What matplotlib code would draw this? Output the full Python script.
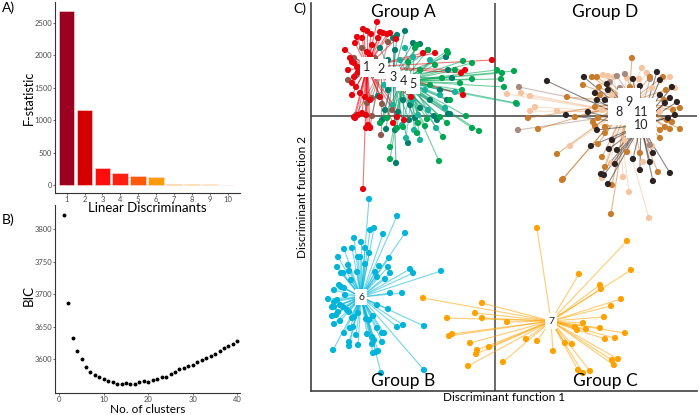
import matplotlib
matplotlib.use('Agg')
import matplotlib.pyplot as plt

plt.rcParams['font.family'] = ['Lato', 'DejaVu Sans']

# ---- A) F-statistic of each linear discriminant
ld_index = [1, 2, 3, 4, 5, 6, 7, 8, 9, 10]
f_stat = [2685, 1150, 267, 190, 139, 123, 20, 15, 10, 5]
bar_colors = ['#9b0021', '#d40000', '#fe0d0d', '#ff1e10', '#ff5a0a',
              '#ff9a0a', '#ffb300', '#ffcb22', '#ffe066', '#fff2ab']

# ---- B) BIC against number of clusters
n_clusters = list(range(1, 41))
bic = [3822, 3687, 3633, 3613, 3600, 3588, 3580.5, 3576, 3572, 3569.5,
       3567, 3565.5, 3561.5, 3562, 3563, 3562, 3562.5, 3565, 3567, 3565.5,
       3568, 3570, 3572, 3573, 3576.5, 3580.5, 3585.5, 3587, 3589.5, 3591.5,
       3595, 3598, 3601.5, 3604.5, 3608, 3612.5, 3617, 3620, 3624, 3627.5]

# ---- C) discriminant scores (LD1, LD2) per cluster
pts_1 = [(-11.8, 9.4), (-13.2, 8.7), (-12.8, 8.5), (-12.4, 8.2), (-11.5, 8.4), (-11.2, 8.3),
         (-10.8, 8.2), (-13.8, 7.9), (-14.0, 7.3), (-13.3, 7.8), (-14.5, 5.8), (-14.3, 5.4),
         (-14.1, 5.3), (-13.8, 4.9), (-13.7, 4.4), (-14.1, 3.9), (-14.3, 3.3), (-13.9, 2.9),
         (-13.5, 2.3), (-13.0, 1.9), (-12.5, 1.6), (-14.1, -0.1), (-13.7, 0.1), (-12.9, -1.2),
         (-12.7, -0.9), (-10.2, -0.7), (-9.1, -0.4), (-3.2, 2.1), (-3.4, 4.3), (-3.0, 4.6),
         (-0.3, 5.6), (-7.2, 6.3), (-6.0, 6.3), (-13.2, -7.3), (-12.5, 6.1), (-12.8, 6.4),
         (-11.5, 1.9), (-8.4, 1.9), (-9.9, 7.7), (-10.5, 8.3), (-13.3, 0.3), (-12.9, 0.1),
         (-14.0, -0.2), (-12.5, -1.2), (-9.8, -0.1), (-15.0, 6.6), (-14.7, 4.6), (-14.3, 2.1),
         (-12.3, 7.1), (-11.7, 7.8)]
pts_2 = [(-13.7, 4.9), (-14.1, 5.8), (-13.9, 4.1), (-12.8, 1.3), (-13.9, 0.1), (-12.5, -1.1),
         (-11.4, -1.9), (-12.3, 0.0), (-13.3, 6.8), (-12.0, 5.8), (-10.7, 7.4), (-12.3, 1.8),
         (-10.3, 0.6), (-14.7, 3.6), (-11.3, 1.2)]
pts_3 = [(-9.8, 8.1), (-9.0, 8.5), (-10.2, 7.8), (-8.2, 7.3), (-7.5, 7.2), (-6.7, 6.6),
         (-4.9, 5.9), (-4.7, 4.6), (-4.3, 3.8), (-5.5, 2.6), (-4.8, 1.6), (-7.5, 0.8),
         (-8.5, 1.1), (-9.7, 0.4), (-11.0, 0.6), (-11.7, 2.0), (-10.7, 2.6), (-9.2, 1.6),
         (-6.5, 1.6), (-4.7, 0.2), (-8.6, -0.4), (-10.0, -1.4), (-8.7, -2.7), (-9.9, -4.7),
         (-11.3, -0.4), (-10.9, -1.3), (-4.5, 0.2), (-6.1, 0.0), (-10.7, 5.6), (-11.5, 6.8),
         (-10.0, 6.6), (-8.0, -0.2), (-5.8, -0.4), (-12.0, 4.1), (-11.1, 4.6)]
pts_4 = [(-8.0, 6.8), (-7.8, 7.1), (-6.7, 6.6), (-4.8, 6.5), (-4.7, 6.3), (-3.2, 5.5),
         (-2.3, 5.3), (0.2, 4.6), (1.9, 4.5), (0.7, 4.3), (-2.3, 3.7), (0.6, 3.7),
         (0.9, 2.9), (2.1, 1.3), (-3.5, 3.3), (-3.3, 2.6), (-4.5, 1.6), (-5.5, -0.1),
         (-4.8, -0.7), (-2.9, 0.0), (-2.3, -1.2), (-1.6, -1.5), (-5.2, -2.1), (-5.6, -4.5),
         (-10.5, -3.1), (-10.5, -4.3), (-9.8, -1.2), (-9.2, -1.1), (-10.8, -0.2), (-11.5, -0.7),
         (-6.8, -0.3), (-7.7, -0.7), (-7.0, -1.0), (-7.8, -1.7), (-8.7, 5.4), (-7.5, 4.6),
         (-6.0, 5.1), (-6.5, 3.1), (-5.3, 3.8), (-4.0, 4.6)]
pts_5 = [(2.2, 1.2), (-8.1, -1.4), (-7.7, 0.1), (-6.7, 0.6), (-8.3, 1.6), (-5.0, 0.8),
         (-5.5, 2.1), (-7.0, 2.6), (-8.9, -2.2), (-9.3, -0.9), (-7.5, -2.4), (-5.9, -1.2),
         (-8.2, 5.9), (-9.0, 6.8), (-9.5, 5.6), (-6.5, 5.6), (-4.0, 2.4), (-10.2, 1.1),
         (-11.1, 3.1)]
pts_6 = [(-12.6, -8.3), (-9.8, -10.0), (-9.0, -11.7), (-12.5, -11.4), (-12.1, -11.2), (-11.2, -11.8),
         (-14.1, -12.2), (-13.4, -12.6), (-15.1, -13.3), (-14.3, -13.2), (-13.0, -13.2), (-12.6, -13.7),
         (-13.7, -14.1), (-13.5, -14.1), (-15.7, -14.1), (-14.7, -14.9), (-15.8, -15.1), (-15.4, -15.7),
         (-15.2, -15.7), (-14.6, -15.5), (-13.8, -15.6), (-13.0, -14.8), (-11.6, -15.0), (-10.6, -14.2),
         (-10.7, -15.1), (-12.0, -15.6), (-10.5, -15.7), (-8.5, -15.3), (-8.2, -15.7), (-5.4, -15.5),
         (-11.0, -16.3), (-11.8, -16.1), (-14.4, -16.4), (-15.6, -16.9), (-16.1, -17.4), (-15.4, -17.1),
         (-15.1, -17.2), (-15.0, -17.9), (-16.7, -18.3), (-16.1, -18.6), (-15.8, -18.4), (-10.5, -17.7),
         (-9.3, -17.7), (-11.8, -18.9), (-10.7, -19.3), (-16.3, -19.1), (-16.1, -19.1), (-15.5, -18.9),
         (-15.2, -19.1), (-14.8, -19.4), (-14.6, -19.6), (-16.3, -20.0), (-15.9, -19.9), (-15.7, -19.6),
         (-15.5, -20.5), (-16.1, -20.8), (-14.3, -20.2), (-14.1, -20.1), (-13.7, -19.7), (-12.9, -20.3),
         (-12.6, -20.4), (-12.2, -20.0), (-9.8, -21.1), (-9.2, -20.9), (-7.1, -21.0), (-11.8, -21.2),
         (-11.3, -21.7), (-11.1, -21.7), (-14.5, -21.2), (-14.2, -21.1), (-15.1, -21.7), (-13.9, -21.9),
         (-12.8, -21.8), (-12.3, -22.1), (-12.1, -22.4), (-11.3, -22.6), (-14.6, -22.6), (-14.6, -23.0),
         (-13.7, -22.9), (-12.3, -22.8), (-11.9, -23.6), (-12.2, -23.7), (-11.7, -23.5), (-16.2, -23.4),
         (-11.4, -25.7), (-7.1, -25.4)]
pts_7 = [(4.2, -11.2), (13.2, -12.5), (13.6, -15.4), (8.4, -15.8), (10.5, -16.9), (10.6, -17.3),
         (12.6, -18.3), (11.6, -19.0), (10.9, -20.1), (-1.3, -18.7), (-1.3, -20.2), (1.2, -20.6),
         (8.8, -20.7), (8.0, -21.1), (8.2, -21.4), (9.1, -21.3), (10.5, -21.2), (13.0, -21.7),
         (11.0, -22.3), (12.0, -22.2), (3.1, -22.3), (4.2, -22.5), (-0.6, -23.1), (5.8, -23.5),
         (7.0, -22.7), (7.7, -22.8), (0.8, -24.6), (11.7, -24.4), (12.3, -24.3), (11.9, -24.9),
         (8.3, -25.4), (8.8, -25.7), (9.5, -25.5), (-7.2, -18.2), (-2.0, -19.7), (-4.8, -20.2),
         (-4.3, -21.8), (-4.6, -22.0), (-2.5, -22.7), (-1.8, -23.4), (-1.9, -23.8), (-2.7, -25.0)]
pts_8 = [(14.7, 4.8), (15.2, 4.3), (10.8, 4.1), (11.3, 4.0), (13.2, 3.8), (14.4, 3.7),
         (17.5, 3.9), (18.0, 2.8), (1.2, 2.2), (2.6, 2.3), (3.5, 2.0), (4.0, 0.9),
         (3.5, 0.5), (6.2, 0.5), (7.5, -3.0), (14.8, -4.6), (15.7, -3.0), (10.7, -6.2),
         (12.8, -6.1), (13.4, -7.6), (15.4, -10.2), (11.6, -4.7), (11.7, 2.1), (16.5, 0.4),
         (13.0, -2.4), (10.7, 0.6), (15.7, 2.8), (11.9, 3.9)]
pts_9 = [(13.7, 5.8), (9.7, 3.9), (10.2, 3.9), (15.5, 3.9), (16.8, 3.9), (8.8, 3.1),
         (10.4, 2.9), (7.2, 1.9), (10.0, 0.9), (8.0, -0.1), (3.3, -0.2), (4.3, -1.3),
         (9.8, -0.6), (10.0, -1.0), (11.0, -1.1), (17.8, 0.6), (18.5, 0.8), (17.2, -0.4),
         (17.7, -0.6), (17.0, -1.1), (18.5, -1.3), (16.5, -1.4), (17.5, -1.3), (16.5, -2.2),
         (6.2, -3.8), (10.3, -2.8), (10.7, -4.1), (13.2, -3.6), (14.5, -3.7), (16.3, -5.6),
         (11.0, -5.1), (11.7, -6.9), (6.7, -6.4), (6.8, -6.3), (11.6, -9.8), (10.5, 2.1),
         (16.9, 1.6), (15.0, -1.9), (11.0, -1.7), (10.3, -0.2), (13.5, 2.9), (17.1, 2.6)]
pts_10 = [(16.2, 4.4), (8.9, 3.9), (5.2, 3.5), (13.8, 3.7), (17.7, 2.9), (16.5, 3.6),
          (10.0, 2.3), (11.2, 3.2), (11.3, 2.6), (9.3, 0.4), (7.1, 0.1), (10.2, -1.4),
          (17.0, 1.3), (17.5, 1.8), (9.6, -3.0), (11.4, -3.3), (11.7, -2.4), (12.2, -3.4),
          (13.8, -4.3), (15.8, -3.7), (17.5, -5.7), (15.8, -6.5), (14.5, -5.4), (12.0, -4.8),
          (10.9, -5.9), (10.6, -5.8), (11.3, -6.8), (15.5, -4.6), (11.0, 1.6), (16.5, 2.1),
          (17.3, -0.2), (15.7, -1.4), (10.2, 1.6), (14.5, 3.0), (18.0, 0.1), (18.2, 1.4)]
pts_11 = [(12.2, 4.0), (2.4, 2.9), (2.3, -1.4), (12.5, 2.8), (11.5, 3.4), (13.0, 4.2),
          (15.5, 3.7), (15.5, -2.9)]

centroids = {1: (-12.8, 4.9), 2: (-11.4, 4.7), 3: (-10.2, 3.9), 4: (-9.2, 3.5),
             5: (-8.2, 3.2), 6: (-13.4, -18.1), 7: (5.6, -20.5), 8: (12.4, 0.4),
             9: (13.4, 1.4), 10: (14.6, -0.9), 11: (14.6, 0.4)}
cluster_pts = {1: pts_1, 2: pts_2, 3: pts_3, 4: pts_4, 5: pts_5, 6: pts_6,
               7: pts_7, 8: pts_8, 9: pts_9, 10: pts_10, 11: pts_11}
cluster_colors = {1: '#e8000b', 2: '#8c5a4c', 3: '#00806a', 4: '#00a651', 5: '#17b39b',
                  6: '#00b5d9', 7: '#ffa200', 8: '#f5c4a0', 9: '#c97b2c',
                  10: '#2c2222', 11: '#a68a7e'}
draw_order = [8, 11, 9, 10, 6, 7, 3, 5, 4, 2, 1]
group_names = ['Group A', 'Group D', 'Group B', 'Group C']

fig = plt.figure(figsize=(6.99, 4.15), dpi=100)
tick_col = '#4d4d4d'

# ---------------- A
axA = fig.add_axes([0.0787, 0.535, 0.2647, 0.46])
axA.bar(ld_index, f_stat, width=0.88, color=bar_colors, edgecolor='#ffe0e0', linewidth=0.4)
axA.set_xlim(0.35, 10.7)
axA.set_ylim(-123, 2819)
axA.set_xticks(ld_index)
axA.set_yticks([0, 500, 1000, 1500, 2000, 2500])
axA.set_ylabel('F-statistic', fontsize=9)
axA.yaxis.set_label_coords(-0.11, 0.5)
axA.set_xlabel('Linear Discriminants', fontsize=9.5)
axA.xaxis.set_label_coords(0.5, -0.047)
for s in ['top', 'right']:
    axA.spines[s].set_visible(False)
for s in ['left', 'bottom']:
    axA.spines[s].set_color('#333333')
    axA.spines[s].set_linewidth(0.8)
axA.tick_params(labelsize=5.5, colors=tick_col, length=1.5, width=0.6, pad=0.8)
fig.text(0.003, 0.982, 'A)', fontsize=10, va='center')

# ---------------- B
axB = fig.add_axes([0.0787, 0.053, 0.2647, 0.453])
axB.patch.set_visible(False)
axB.plot(n_clusters, bic, 'o', color='black', markersize=1.8)
axB.set_xlim(-0.95, 40.6)
axB.set_ylim(3548, 3837)
axB.set_xticks([0, 10, 20, 30, 40])
axB.set_yticks([3600, 3650, 3700, 3750, 3800])
axB.set_ylabel('BIC', fontsize=9.5)
axB.yaxis.set_label_coords(-0.11, 0.52)
axB.set_xlabel('No. of clusters', fontsize=8.5)
axB.xaxis.set_label_coords(0.5, -0.058)
for s in ['top', 'right']:
    axB.spines[s].set_visible(False)
for s in ['left', 'bottom']:
    axB.spines[s].set_color('#333333')
    axB.spines[s].set_linewidth(0.8)
axB.tick_params(labelsize=5.5, colors=tick_col, length=1.5, width=0.6, pad=0.8)
fig.text(0.003, 0.47, 'B)', fontsize=10, va='center')

# ---------------- C
axC = fig.add_axes([0.445, 0.0578, 0.552, 0.935])
axC.set_xlim(-18.4, 20.2)
axC.set_ylim(-27.5, 11.3)
axC.axvline(0, color='#404040', lw=1.1, zorder=1)
axC.axhline(0, color='#404040', lw=1.1, zorder=1)
for k in draw_order:
    cx, cy = centroids[k]
    for (x, y) in cluster_pts[k]:
        axC.plot([cx, x], [cy, y], color=cluster_colors[k], lw=0.8, alpha=0.55, zorder=2)
for k in draw_order:
    xs = [p[0] for p in cluster_pts[k]]
    ys = [p[1] for p in cluster_pts[k]]
    axC.scatter(xs, ys, s=20, color=cluster_colors[k], edgecolors='none', zorder=3)

# white label boxes first, then the cluster numbers on top of all boxes
for k in sorted(centroids):
    cx, cy = centroids[k]
    fs = 7.5 if k in (6, 7) else 9
    pad = 0.6 if k >= 8 else 0.3
    axC.text(cx, cy, str(k), fontsize=fs, ha='center', va='center', zorder=5, color='none',
             bbox=dict(boxstyle='square,pad=%.2f' % pad, facecolor='white', edgecolor='none'))
for k in sorted(centroids):
    cx, cy = centroids[k]
    fs = 7.5 if k in (6, 7) else 9
    axC.text(cx, cy, str(k), fontsize=fs, ha='center', va='center', zorder=6, color='#222222')

axC.set_xticks([])
axC.set_yticks([])
for s in ['top', 'right']:
    axC.spines[s].set_visible(False)
for s in ['left', 'bottom']:
    axC.spines[s].set_color('#404040')
    axC.spines[s].set_linewidth(1.2)
axC.set_xlabel('Discriminant function 1', fontsize=8.5, labelpad=1)
axC.set_ylabel('Discriminant function 2', fontsize=8.5, labelpad=2)
axC.text(0.238, 0.977, group_names[0], transform=axC.transAxes, fontsize=12.5, ha='center', va='center')
axC.text(0.762, 0.977, group_names[1], transform=axC.transAxes, fontsize=12.5, ha='center', va='center')
axC.text(0.238, 0.027, group_names[2], transform=axC.transAxes, fontsize=12.5, ha='center', va='center')
axC.text(0.762, 0.027, group_names[3], transform=axC.transAxes, fontsize=12.5, ha='center', va='center')
fig.text(0.42, 0.98, 'C)', fontsize=10, va='center')

fig.savefig('out.png', dpi=100)
